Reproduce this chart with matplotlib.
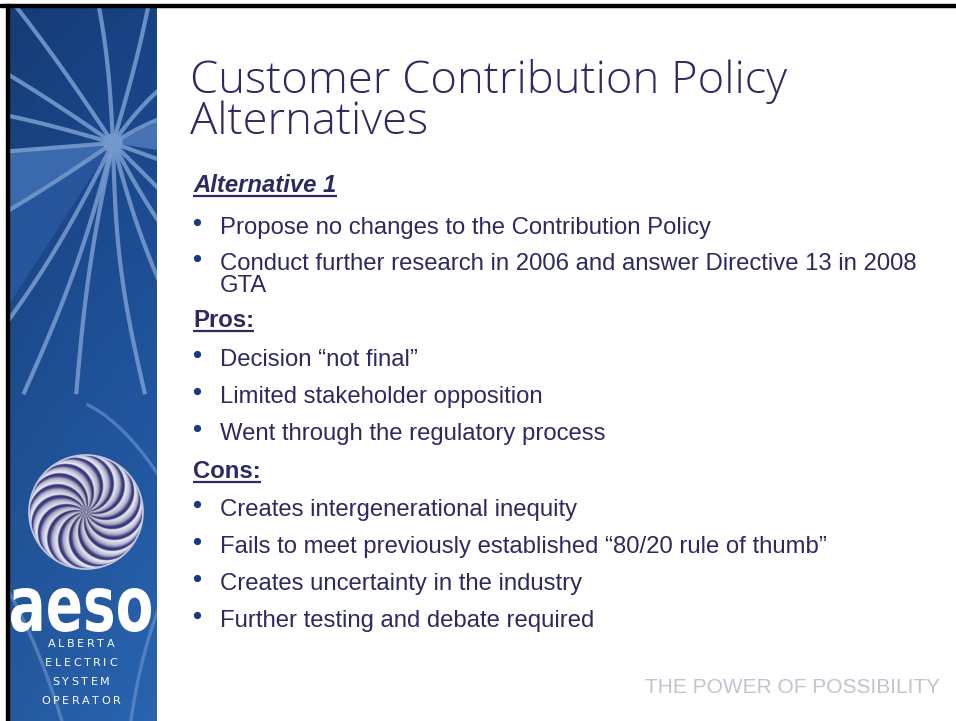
import matplotlib
matplotlib.use("Agg")
import matplotlib.pyplot as plt
import numpy as np
from matplotlib.patches import Rectangle, Circle, Polygon, PathPatch
from matplotlib.font_manager import FontProperties
from matplotlib.textpath import TextPath, TextToPath
from matplotlib.transforms import Affine2D
from matplotlib.colors import to_rgb, LinearSegmentedColormap

# ---------------- content ----------------
title_lines = ["Customer Contribution Policy", "Alternatives"]
alt_heading = "Alternative 1"
alt_items = ["Propose no changes to the Contribution Policy",
             "Conduct further research in 2006 and answer Directive 13 in 2008",
             "GTA"]
alt_is_bullet = [True, True, False]
pros_heading = "Pros:"
pros_items = ["Decision \u201cnot final\u201d",
              "Limited stakeholder opposition",
              "Went through the regulatory process"]
cons_heading = "Cons:"
cons_items = ["Creates intergenerational inequity",
              "Fails to meet previously established \u201c80/20 rule of thumb\u201d",
              "Creates uncertainty in the industry",
              "Further testing and debate required"]
footer_text = "THE POWER OF POSSIBILITY"
logo_word = "aeso"
logo_lines = ["ALBERTA", "ELECTRIC", "SYSTEM", "OPERATOR"]

# ---------------- style ----------------
W, H = 956, 721
TXT = "#2c2a5e"
BULLET = "#1d3a78"
PX = 72 / 100.0  # px -> pt

fig = plt.figure(figsize=(W / 100, H / 100), dpi=100)
ax = fig.add_axes([0, 0, 1, 1])
ax.set_xlim(0, W)
ax.set_ylim(H, 0)
ax.axis("off")
fig.patch.set_facecolor("white")

ttp = TextToPath()


def width_px(s, prop):
    w, h, d = ttp.get_text_width_height_descent(s, prop, ismath=False)
    return w / PX


def fit_size(s, prop, target_px):
    p = prop.copy()
    p.set_size(10)
    return 10 * target_px / width_px(s, p)


# ---------------- frame ----------------
ax.add_patch(Rectangle((0, 4), W, 3, color="black", zorder=5))
ax.add_patch(Rectangle((6, 4), 3.5, H, color="black", zorder=5))

# ---------------- sidebar ----------------
sx0, sx1, sy0 = 9.5, 157, 7
side = Rectangle((sx0, sy0), sx1 - sx0, H - sy0, facecolor="none", edgecolor="none")
ax.add_patch(side)
ny = 200
c_top, c_mid, c_bot = np.array(to_rgb("#17407f")), np.array(to_rgb("#1e5097")), np.array(to_rgb("#2861ab"))
tt = np.linspace(0, 1, ny)[:, None]
grad = np.where(tt < 0.45, c_top + (c_mid - c_top) * (tt / 0.45),
                c_mid + (c_bot - c_mid) * ((tt - 0.45) / 0.55))
nx = 40
xx = np.linspace(0, 1, nx)[None, :, None]
img = grad[:, None, :] * (0.93 + 0.1 * xx)
img = np.clip(img, 0, 1)
ax.imshow(img, extent=(sx0, sx1, H, sy0), aspect="auto", interpolation="bilinear", zorder=1)

C = np.array([113.0, 143.0])
# lighter wedges
for pts, col, al in [([(113, 143), (0, 150), (0, 214)], "#3a69ad", 1.0),
                     ([(113, 143), (0, 214), (0, 300), (12, 300)], "#2c5ca4", 0.7),
                     ([(113, 143), (170, 116), (170, 152)], "#4573b4", 1.0)]:
    pg = Polygon(pts, closed=True, facecolor=col, edgecolor="none", alpha=al, zorder=2)
    ax.add_patch(pg)
    pg.set_clip_path(side)

ray_ends = [(10, 6), (0, 73), (0, 117), (0, 152), (0, 212), (12, 300), (57, 300),
            (90, 300), (133, 300), (160, 268), (160, 218), (160, 190), (160, 160),
            (160, 122), (160, 95), (145, 0), (90, 0)]
ray_bend = [3, 2, 2, 0, -2, -6, -4, 3, 5, 4, 2, 0, 0, -2, -3, 3, 5]
t = np.linspace(0, 1, 60)
for e, b in zip(ray_ends, ray_bend):
    e = np.array(e, float)
    d = (e - C) * 1.6
    perp = np.array([-d[1], d[0]]) / np.hypot(*d)
    pts = C + np.outer(t, d) + np.outer(b * 1.6 * np.sin(np.pi * t), perp)
    ln, = ax.plot(pts[:, 0], pts[:, 1], color="#7498cb", lw=3.0, alpha=0.9,
                  solid_capstyle="butt", zorder=3)
    ln.set_clip_path(side)
ax.add_patch(Circle(C, 9, color="#7498cb", zorder=3))


def qbez(p0, p1, p2, n=80):
    s = np.linspace(0, 1, n)[:, None]
    p0, p1, p2 = map(np.array, (p0, p1, p2))
    return (1 - s) ** 2 * p0 + 2 * (1 - s) * s * p1 + s ** 2 * p2


# faint curves in the lower part
for p0, p1, p2 in [((88, 405), (128, 425), (168, 490)),
                   ((2, 580), (38, 640), (64, 728)),
                   ((168, 585), (140, 650), (130, 728))]:
    q = qbez(p0, p1, p2)
    ln, = ax.plot(q[:, 0], q[:, 1], color="#7097cc", lw=2.4, alpha=0.6, zorder=3)
    ln.set_clip_path(side)

# swirl logo (family of circles through the centre -> crescent blades)
LC = np.array([86.0, 512.0])
LR = 57.0
nblade = 16
gx = np.linspace(LC[0] - LR, LC[0] + LR, 360)
gy = np.linspace(LC[1] - LR, LC[1] + LR, 360)
X, Y = np.meshgrid(gx, gy)
dx, dy = X - LC[0], Y - LC[1]
rho = np.hypot(dx, dy) / LR
phi = np.arctan2(dy, dx)
alpha = phi - np.arccos(np.clip(rho, 0, 1))
frac = np.mod(alpha * nblade / (2 * np.pi), 1.0)
swirl_cmap = LinearSegmentedColormap.from_list(
    "swirl", [(0.0, "#f4f4fa"), (0.25, "#d6d8e8"), (0.5, "#a9abc9"),
              (0.62, "#6b5d9f"), (0.75, "#3c3a80"), (0.9, "#2e3a7e"), (1.0, "#e9eaf4")])
val = swirl_cmap(frac)
val[..., :3] *= (0.85 + 0.15 * rho)[..., None]
val[..., 3] = np.where(rho <= 1.0, 1.0, 0.0)
im = ax.imshow(val, extent=(gx[0], gx[-1], gy[-1], gy[0]), origin="upper",
               interpolation="bilinear", zorder=5)
clipc = Circle(LC, LR, transform=ax.transData)
im.set_clip_path(clipc)
ax.add_patch(Circle(LC, LR, facecolor="none", edgecolor="#c5c8e0", lw=1.2, zorder=6))

# "aeso" word, fitted in its box
aprop = FontProperties(family="DejaVu Sans", weight="bold")
tp = TextPath((0, 0), logo_word, size=10, prop=aprop)
bb = tp.get_extents()
bx0, bx1, btop, bbase = 11, 151, 588, 632
sxs = (bx1 - bx0) / bb.width
sys_ = (bbase - btop) / bb.height
tr = Affine2D().translate(-bb.x0, -bb.y0).scale(sxs, -sys_).translate(bx0, bbase)
ax.add_patch(PathPatch(tr.transform_path(tp), facecolor="white", edgecolor="none", zorder=6))

# letter-spaced sub lines
sprop = FontProperties(family="DejaVu Sans", size=8.0)
sub_y = [647, 666, 685, 704]
for s, y in zip(logo_lines, sub_y):
    track = 2.6
    ws = [width_px(ch, sprop) for ch in s]
    total = sum(ws) + track * (len(s) - 1)
    x = 81 - total / 2
    for ch, w in zip(s, ws):
        ax.text(x, y, ch, fontproperties=sprop, color="white", va="baseline",
                ha="left", zorder=6)
        x += w + track

# ---------------- title ----------------
tprop = FontProperties(family="Open Sans", weight="light")
tsize = fit_size(title_lines[0], tprop, 597)
tprop.set_size(tsize)
for s, y in zip(title_lines, [93, 134]):
    ax.text(190, y, s, fontproperties=tprop, color=TXT, va="baseline", ha="left")

# ---------------- body ----------------
bprop = FontProperties(family="Liberation Sans")
bsize = fit_size(alt_items[1], bprop, 698)
bprop.set_size(bsize)
hprop_i = FontProperties(family="Liberation Sans", weight="bold", style="italic", size=bsize)
hprop = FontProperties(family="Liberation Sans", weight="bold", size=bsize)

TX, BX = 220, 197


def heading(s, y, prop):
    ax.text(193, y, s, fontproperties=prop, color=TXT, va="baseline", ha="left")
    w = width_px(s, prop)
    ax.plot([193, 193 + w], [y + 3.5, y + 3.5], color=TXT, lw=1.6, solid_capstyle="butt")


def item(s, y, bullet=True):
    if bullet:
        ax.plot([BX], [y - 12.5], "o", ms=5.2, color=BULLET, mec="none")
    ax.text(TX, y, s, fontproperties=bprop, color=TXT, va="baseline", ha="left")


heading(alt_heading, 192, hprop_i)
for s, y, b in zip(alt_items, [234, 270, 292], alt_is_bullet):
    item(s, y, b)
heading(pros_heading, 327, hprop)
for s, y in zip(pros_items, [366, 403, 440]):
    item(s, y)
heading(cons_heading, 478, hprop)
for s, y in zip(cons_items, [516, 553, 590, 627]):
    item(s, y)

# ---------------- footer ----------------
fprop = FontProperties(family="Liberation Sans")
fprop.set_size(fit_size(footer_text, fprop, 295))
ax.text(645, 693, footer_text, fontproperties=fprop, color="#c3c3cf", va="baseline", ha="left")

fig.savefig("out.png", dpi=100, facecolor="white")
